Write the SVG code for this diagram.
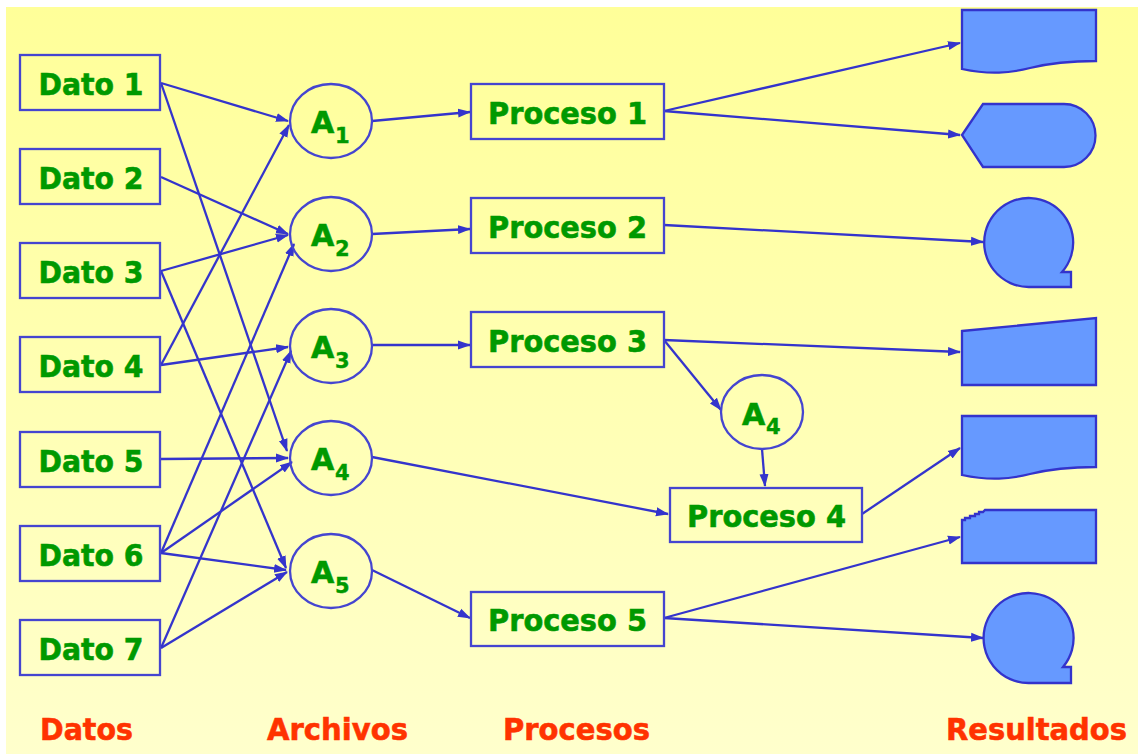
<svg xmlns="http://www.w3.org/2000/svg" width="1138" height="754" viewBox="0 0 1138 754">
<defs>
<linearGradient id="bg" x1="0" y1="0" x2="0" y2="1">
<stop offset="0" stop-color="#FFFF99"/>
<stop offset="1" stop-color="#FFFFCC"/>
</linearGradient>
<marker id="arr" markerUnits="userSpaceOnUse" markerWidth="14" markerHeight="12" refX="12" refY="6" orient="auto">
<path d="M0,1.5 L13,6 L0,10.5 Z" fill="#3434CC"/>
</marker>
<style>
.box{fill:none;stroke:#4545D0;stroke-width:2.3}
.ell{fill:none;stroke:#4545D0;stroke-width:2.3}
.res{fill:#6699FF;stroke:#3333CC;stroke-width:2.3}
.lbl{font-family:"DejaVu Sans",Verdana,sans-serif;font-weight:bold;font-size:31px;fill:#009900;stroke:#009900;stroke-width:0.6}
.a{font-family:"DejaVu Sans",Verdana,sans-serif;font-weight:bold;font-size:30px;fill:#009900;stroke:#009900;stroke-width:0.6}
.sub{font-family:"DejaVu Sans",Verdana,sans-serif;font-weight:bold;font-size:21px;fill:#009900;stroke:#009900;stroke-width:0.4}
.hdr{font-family:"DejaVu Sans",Verdana,sans-serif;font-weight:bold;font-size:31px;fill:#FF3300;stroke:#FF3300;stroke-width:0.6}
.con path{fill:none;stroke:#3434CC;stroke-width:2.3;marker-end:url(#arr)}
</style>
</defs>
<rect x="0" y="0" width="1138" height="754" fill="#FFFFFF"/>
<rect x="6" y="7" width="1132" height="747" fill="url(#bg)"/>

<g id="connectors" class="con">
<path d="M161,83 L288,121"/>
<path d="M161,83 L287,451"/>
<path d="M161,177 L288,234"/>
<path d="M161,271 L288,235"/>
<path d="M161,271 L286,568"/>
<path d="M161,365 L289,125"/>
<path d="M161,365 L288,347"/>
<path d="M161,459 L288,458"/>
<path d="M161,553 L294,244"/>
<path d="M161,553 L292,462"/>
<path d="M161,553 L286,570"/>
<path d="M161,648 L291,351"/>
<path d="M161,648 L287,572"/>
<path d="M372,121 L470,112"/>
<path d="M372,234 L470,229"/>
<path d="M372,345 L470,345"/>
<path d="M372,457 L668,514"/>
<path d="M372,570 L470,618"/>
<path d="M664,111 L960,43"/>
<path d="M664,111 L960,135"/>
<path d="M664,225 L983,242"/>
<path d="M664,340 L960,352"/>
<path d="M664,340 L721,410"/>
<path d="M762,449 L765,486"/>
<path d="M862,514 L960,448"/>
<path d="M664,618 L960,537"/>
<path d="M664,618 L983,638"/>
</g>

<g id="dato1"><rect class="box" x="20" y="55" width="140" height="55"/><text class="lbl" x="91" y="95" text-anchor="middle" textLength="105" lengthAdjust="spacingAndGlyphs">Dato 1</text></g>
<g id="dato2"><rect class="box" x="20" y="149" width="140" height="55"/><text class="lbl" x="91" y="189" text-anchor="middle" textLength="105" lengthAdjust="spacingAndGlyphs">Dato 2</text></g>
<g id="dato3"><rect class="box" x="20" y="243" width="140" height="55"/><text class="lbl" x="91" y="283" text-anchor="middle" textLength="105" lengthAdjust="spacingAndGlyphs">Dato 3</text></g>
<g id="dato4"><rect class="box" x="20" y="337" width="140" height="55"/><text class="lbl" x="91" y="377" text-anchor="middle" textLength="105" lengthAdjust="spacingAndGlyphs">Dato 4</text></g>
<g id="dato5"><rect class="box" x="20" y="432" width="140" height="55"/><text class="lbl" x="91" y="472" text-anchor="middle" textLength="105" lengthAdjust="spacingAndGlyphs">Dato 5</text></g>
<g id="dato6"><rect class="box" x="20" y="526" width="140" height="55"/><text class="lbl" x="91" y="566" text-anchor="middle" textLength="105" lengthAdjust="spacingAndGlyphs">Dato 6</text></g>
<g id="dato7"><rect class="box" x="20" y="620" width="140" height="55"/><text class="lbl" x="91" y="660" text-anchor="middle" textLength="105" lengthAdjust="spacingAndGlyphs">Dato 7</text></g>

<g id="a1"><ellipse class="ell" cx="331" cy="121" rx="41" ry="37"/><text class="a" x="311" y="133">A</text><text class="sub" x="335" y="143">1</text></g>
<g id="a2"><ellipse class="ell" cx="331" cy="234" rx="41" ry="37"/><text class="a" x="311" y="246">A</text><text class="sub" x="335" y="256">2</text></g>
<g id="a3"><ellipse class="ell" cx="331" cy="346" rx="41" ry="37"/><text class="a" x="311" y="358">A</text><text class="sub" x="335" y="368">3</text></g>
<g id="a4"><ellipse class="ell" cx="331" cy="458" rx="41" ry="37"/><text class="a" x="311" y="470">A</text><text class="sub" x="335" y="480">4</text></g>
<g id="a5"><ellipse class="ell" cx="331" cy="571" rx="41" ry="37"/><text class="a" x="311" y="583">A</text><text class="sub" x="335" y="593">5</text></g>
<g id="a4b"><ellipse class="ell" cx="762" cy="412" rx="41" ry="37"/><text class="a" x="742" y="425">A</text><text class="sub" x="766" y="434">4</text></g>

<g id="proceso1"><rect class="box" x="471" y="84" width="193" height="55"/><text class="lbl" x="488" y="124" textLength="159" lengthAdjust="spacingAndGlyphs">Proceso 1</text></g>
<g id="proceso2"><rect class="box" x="471" y="198" width="193" height="55"/><text class="lbl" x="488" y="238" textLength="159" lengthAdjust="spacingAndGlyphs">Proceso 2</text></g>
<g id="proceso3"><rect class="box" x="471" y="312" width="193" height="55"/><text class="lbl" x="488" y="352" textLength="159" lengthAdjust="spacingAndGlyphs">Proceso 3</text></g>
<g id="proceso4"><rect class="box" x="670" y="488" width="192" height="54"/><text class="lbl" x="687" y="527" textLength="159" lengthAdjust="spacingAndGlyphs">Proceso 4</text></g>
<g id="proceso5"><rect class="box" x="471" y="592" width="193" height="54"/><text class="lbl" x="488" y="631" textLength="159" lengthAdjust="spacingAndGlyphs">Proceso 5</text></g>

<g id="res1"><path class="res" d="M962,10 H1096 V61 C1070,61 1050,63 1030,68 C1010,73 990,75 962,69 Z"/></g>
<g id="res2"><path class="res" d="M962,135 L983,104 H1064 A31.5,31.5 0 0 1 1064,167 H983 Z"/></g>
<g id="res3"><path class="res" d="M1062,272 A44.5,44.5 0 1 0 1029,287 H1071 V272 Z"/></g>
<g id="res4"><path class="res" d="M962,331 L1096,318 V385 H962 Z"/></g>
<g id="res5"><path class="res" d="M962,416 H1096 V467 C1070,467 1050,469 1030,474 C1010,479 990,481 962,475 Z"/></g>
<g id="res6"><path class="res" d="M962,520 H965 V518 H970 V516 H975 V514 H979 V512 H983 L985,510 H1096 V563 H962 Z"/></g>
<g id="res7"><path class="res" d="M1063,667 A45,45 0 1 0 1029,683 H1071 V667 Z"/></g>

<g id="headers">
<text class="hdr" x="40" y="740" textLength="93" lengthAdjust="spacingAndGlyphs">Datos</text>
<text class="hdr" x="267" y="740" textLength="141" lengthAdjust="spacingAndGlyphs">Archivos</text>
<text class="hdr" x="503" y="740" textLength="147" lengthAdjust="spacingAndGlyphs">Procesos</text>
<text class="hdr" x="946" y="740" textLength="181" lengthAdjust="spacingAndGlyphs">Resultados</text>
</g>
</svg>
